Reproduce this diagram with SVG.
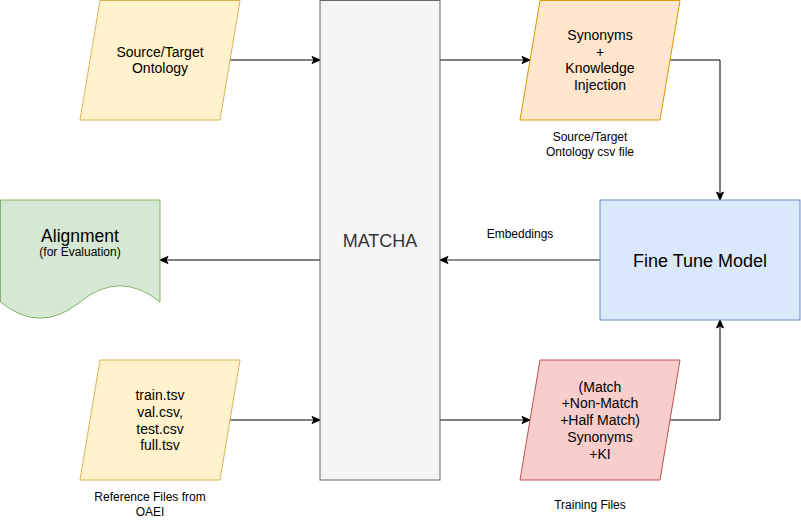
<svg xmlns="http://www.w3.org/2000/svg" width="801" height="531" viewBox="0 0 801 531">
<style>
text{font-family:"Liberation Sans",Arial,Helvetica,sans-serif;fill:#000;text-anchor:middle}
.n{font-size:14px}
.s{font-size:12px}
.yel{fill:#fff2cc;stroke:#d6b656;stroke-width:1}
.org{fill:#ffe6cc;stroke:#d79b00;stroke-width:1}
.grn{fill:#d5e8d4;stroke:#82b366;stroke-width:1}
.blu{fill:#dae8fc;stroke:#6c8ebf;stroke-width:1}
.gry{fill:#f5f5f5;stroke:#666666;stroke-width:1}
.red{fill:#f8cecc;stroke:#b85450;stroke-width:1}
.c{fill:none;stroke:#000;stroke-width:1;marker-end:url(#a)}
.cg{fill:none;stroke:#666666;stroke-width:1.5;marker-end:url(#ag)}
</style>
<defs>
<marker id="a" markerUnits="userSpaceOnUse" markerWidth="10" markerHeight="10" viewBox="0 0 10 10" refX="9" refY="5" orient="auto">
<path d="M1,1.5 L9,5 L1,8.5 L3,5 Z" fill="#000" stroke="#000" stroke-width="1"/>
</marker>
<marker id="ag" markerUnits="userSpaceOnUse" markerWidth="10" markerHeight="10" viewBox="0 0 10 10" refX="9" refY="5" orient="auto">
<path d="M1,1.5 L9,5 L1,8.5 L3,5 Z" fill="#000" stroke="#000" stroke-width="1"/>
</marker>
</defs>
<rect width="801" height="531" fill="#fff"/>
<g id="connectors">
<path class="c" d="M230,60 L320,60"/>
<path class="c" d="M440,60 L530,60"/>
<path class="c" d="M670,60 L720,60 L720,200"/>
<path class="cg" d="M600,260 L440,260"/>
<path class="c" d="M320,260 L160,260"/>
<path class="c" d="M230,420 L320,420"/>
<path class="c" d="M440,420 L530,420"/>
<path class="c" d="M670,420 L720,420 L720,320"/>
</g>
<g id="matcha">
<rect class="gry" x="320" y="0.5" width="120" height="479.5"/>
<text x="380" y="247" style="font-size:18px;fill:#333333">MATCHA</text>
</g>
<g id="source-ontology">
<path class="yel" d="M100,0.5 L240,0.5 L220,120 L80,120 Z"/>
<text class="n" x="160" y="56.6">Source/Target</text>
<text class="n" x="160" y="73.4">Ontology</text>
</g>
<g id="synonyms-ki">
<path class="org" d="M540,0.5 L680,0.5 L660,120 L520,120 Z"/>
<text class="n" x="600" y="39.8">Synonyms</text>
<text class="n" x="600" y="56.6">+</text>
<text class="n" x="600" y="73.4">Knowledge</text>
<text class="n" x="600" y="90.2">Injection</text>
</g>
<g id="csv-label">
<text class="s" x="590" y="141">Source/Target</text>
<text class="s" x="590" y="156">Ontology csv file</text>
</g>
<g id="fine-tune">
<rect class="blu" x="600" y="200" width="200" height="120"/>
<text x="700" y="267" style="font-size:18px">Fine Tune Model</text>
</g>
<g id="embeddings-label">
<text class="s" x="520" y="238">Embeddings</text>
</g>
<g id="alignment">
<path class="grn" d="M0.5,200 L160,200 L160,302 Q120,269.6 80,302 Q40,334.4 0.5,302 Z"/>
<text x="80" y="242" style="font-size:17.5px">Alignment</text>
<text class="s" x="80" y="256">(for Evaluation)</text>
</g>
<g id="reference-files">
<path class="yel" d="M100,360 L240,360 L220,480 L80,480 Z"/>
<text class="n" x="160" y="400">train.tsv</text>
<text class="n" x="160" y="416.8">val.csv,</text>
<text class="n" x="160" y="433.6">test.csv</text>
<text class="n" x="160" y="450.4">full.tsv</text>
</g>
<g id="reference-label">
<text class="s" x="150" y="501">Reference Files from</text>
<text class="s" x="150" y="516">OAEI</text>
</g>
<g id="training-files">
<path class="red" d="M540,360 L680,360 L660,480 L520,480 Z"/>
<text class="n" x="600" y="391.6">(Match</text>
<text class="n" x="600" y="408.4">+Non-Match</text>
<text class="n" x="600" y="425.2">+Half Match)</text>
<text class="n" x="600" y="442">Synonyms</text>
<text class="n" x="600" y="458.8">+KI</text>
</g>
<g id="training-label">
<text class="s" x="590" y="509">Training Files</text>
</g>
</svg>
